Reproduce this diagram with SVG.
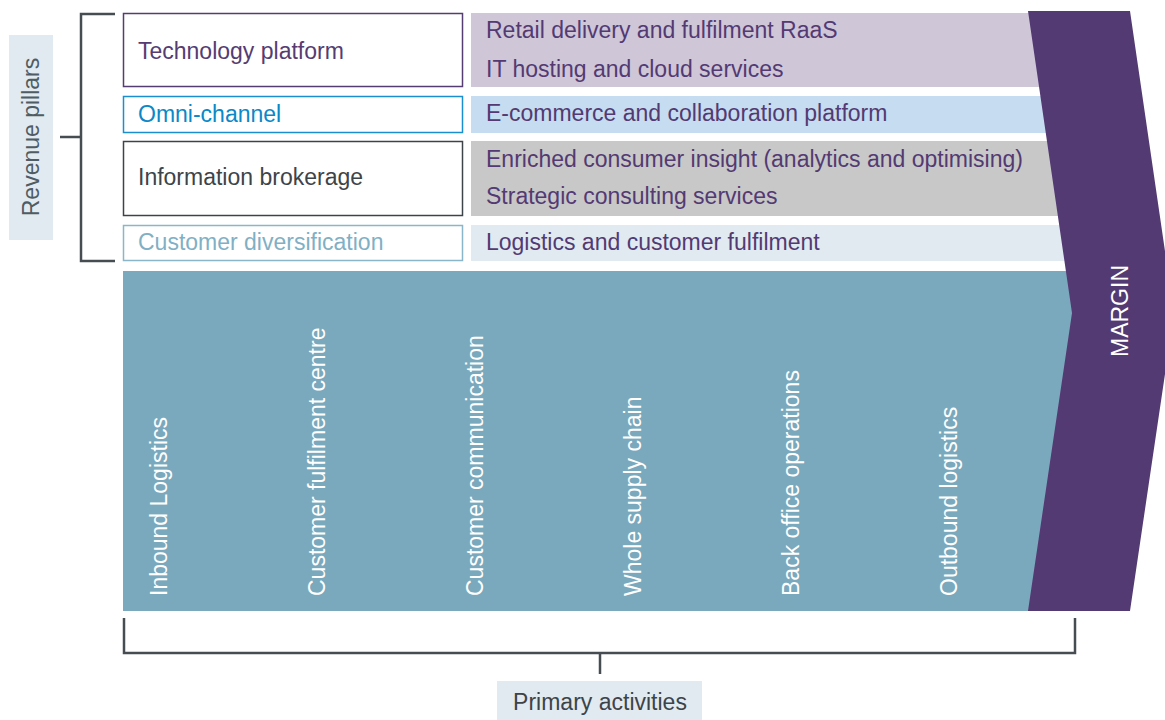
<svg xmlns="http://www.w3.org/2000/svg" width="1165" height="720" viewBox="0 0 1165 720">
  <style>
    text { font-family: "Liberation Sans", Arial, sans-serif; font-size: 23px; }
    .pillar { fill: #ffffff; stroke-width: 1.5; }
    .offer { fill: #533a72; }
    .act { fill: #ffffff; }
    .bracket { fill: none; stroke: #454d53; stroke-width: 2.5; }
  </style>
  <rect width="1165" height="720" fill="#ffffff"/>

  <!-- revenue pillars label -->
  <g id="revenue-pillars">
    <rect x="9" y="35" width="44" height="205" fill="#e1eaf0"/>
    <text transform="translate(39,137) rotate(-90)" text-anchor="middle" fill="#4f5c64" font-size="22">Revenue pillars</text>
  </g>

  <!-- right-hand offering bars -->
  <g id="offer-tech">
    <rect x="471" y="13" width="604" height="74" fill="#cfc6d8"/>
    <text class="offer" x="486" y="38">Retail delivery and fulfilment RaaS</text>
    <text class="offer" x="486" y="77">IT hosting and cloud services</text>
  </g>
  <g id="offer-omni">
    <rect x="471" y="96" width="604" height="37" fill="#c6dcf0"/>
    <text class="offer" x="486" y="121">E-commerce and collaboration platform</text>
  </g>
  <g id="offer-info">
    <rect x="471" y="141" width="604" height="75" fill="#c8c8c8"/>
    <text class="offer" x="486" y="167">Enriched consumer insight (analytics and optimising)</text>
    <text class="offer" x="486" y="204">Strategic consulting services</text>
  </g>
  <g id="offer-customer">
    <rect x="471" y="225" width="604" height="36" fill="#e1eaf0"/>
    <text class="offer" x="486" y="250">Logistics and customer fulfilment</text>
  </g>

  <!-- pillar boxes -->
  <g id="pillar-tech">
    <rect class="pillar" x="123.5" y="13.5" width="339" height="73" stroke="#553c72"/>
    <text x="138" y="59" fill="#553c72">Technology platform</text>
  </g>
  <g id="pillar-omni">
    <rect class="pillar" x="123.5" y="96.5" width="339" height="36" stroke="#1a8fd0"/>
    <text x="138" y="122" fill="#0a88c8">Omni-channel</text>
  </g>
  <g id="pillar-info">
    <rect class="pillar" x="123.5" y="141.5" width="339" height="74" stroke="#3d4449"/>
    <text x="138" y="185" fill="#3d4449">Information brokerage</text>
  </g>
  <g id="pillar-customer">
    <rect class="pillar" x="123.5" y="225.5" width="339" height="35" stroke="#8ab6c9"/>
    <text x="138" y="250" fill="#7fb0c5">Customer diversification</text>
  </g>

  <!-- primary activities band -->
  <g id="activities">
    <rect x="123" y="271" width="952" height="340" fill="#7aa9bd"/>
    <text class="act" transform="translate(167,596) rotate(-90)">Inbound Logistics</text>
    <text class="act" transform="translate(325,596) rotate(-90)">Customer fulfilment centre</text>
    <text class="act" transform="translate(483,596) rotate(-90)">Customer communication</text>
    <text class="act" transform="translate(641,596) rotate(-90)">Whole supply chain</text>
    <text class="act" transform="translate(799,596) rotate(-90)">Back office operations</text>
    <text class="act" transform="translate(957,596) rotate(-90)">Outbound logistics</text>
  </g>

  <!-- margin chevron -->
  <g id="margin">
    <polygon points="1028,11 1130,11 1174,313 1130,611 1028,611 1072,313" fill="#533a72"/>
    <text transform="translate(1128,311) rotate(-90)" text-anchor="middle" fill="#ffffff" font-size="21">MARGIN</text>
  </g>

  <!-- brackets -->
  <g id="connectors">
    <path class="bracket" d="M115,14 H81 V261 H115 M60,137 H81"/>
    <path class="bracket" d="M124,618 V653 H1075 V618 M600,653 V674"/>
  </g>

  <!-- primary activities label -->
  <g id="primary-activities">
    <rect x="497" y="681" width="205" height="39" fill="#e1eaf0"/>
    <text x="600" y="710" text-anchor="middle" fill="#3d4449">Primary activities</text>
  </g>
</svg>
